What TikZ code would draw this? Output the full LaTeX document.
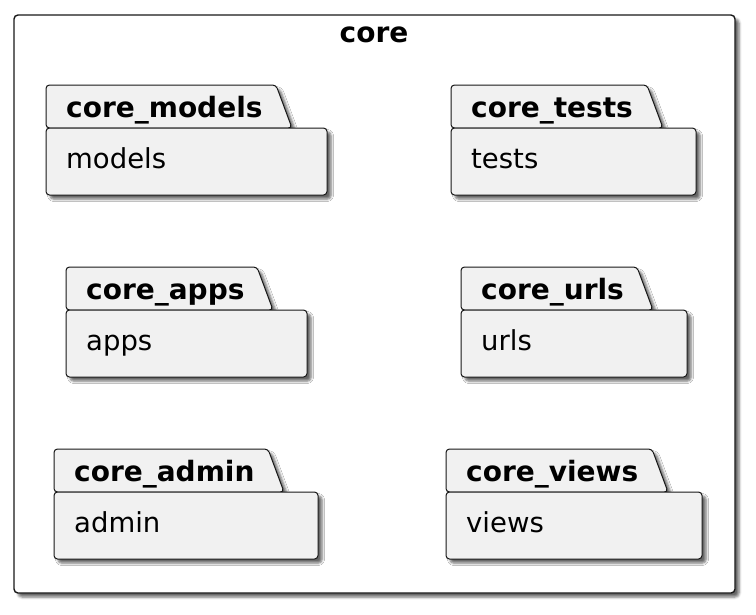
\documentclass[tikz,border=0pt]{standalone}
\usepackage{fontspec}
\setmainfont{DejaVu Sans}
\usepackage{xcolor}
\usepackage{tikz}
\usetikzlibrary{shadows.blur}
\definecolor{pkgfill}{HTML}{F1F1F1}
\definecolor{pkgline}{HTML}{181818}

\tikzset{
  pkgshadow/.style={blur shadow={shadow xshift=4pt, shadow yshift=-4pt, shadow blur radius=2.5pt, shadow opacity=60}},
  pkgshape/.style={draw=pkgline, fill=pkgfill, line width=1pt, rounded corners=3.5pt, pkgshadow},
  pkgtitle/.style={anchor=base west, inner sep=0pt, font=\fontsize{28}{28}\selectfont\bfseries},
  pkglabel/.style={anchor=base west, inner sep=0pt, font=\fontsize{27.5}{27.5}\selectfont}
}

\begin{document}
\begin{tikzpicture}[x=1pt, y=-1pt]
  \useasboundingbox (0,0) rectangle (756,614);

  % Outer frame
  \draw[pkgline, line width=1.4pt, fill=white, rounded corners=4pt, pkgshadow]
    (14,15) rectangle (735,593);
  \node[anchor=base, inner sep=0pt, font=\fontsize{28}{28}\selectfont\bfseries] (core) at (374,42.5) {core};

  % Packages: name / left / top / tab right / right / bottom
  \foreach \nm/\xa/\ya/\tr/\xb/\yb in {
      models/46/85/276/327/195,
      tests/451/85/647/696/195,
      apps/66/267/257/307/377,
      urls/461/267/637/687/377,
      admin/54/449/268/318/559,
      views/446/449/652/702/559} {
    % tab
    \draw[pkgshape] (\xa,\ya+43) -- (\xa,\ya) -- (\tr,\ya) -- (\tr+16,\ya+43) -- cycle;
    % body
    \draw[pkgshape] (\xa,\ya+43) rectangle (\xb,\yb);
    \node[pkgtitle] (\nm-title) at (\xa+20,\ya+32) {core\_\nm};
    \node[pkglabel] (\nm-body) at (\xa+20,\ya+83.5) {\nm};
  }
\end{tikzpicture}
\end{document}
